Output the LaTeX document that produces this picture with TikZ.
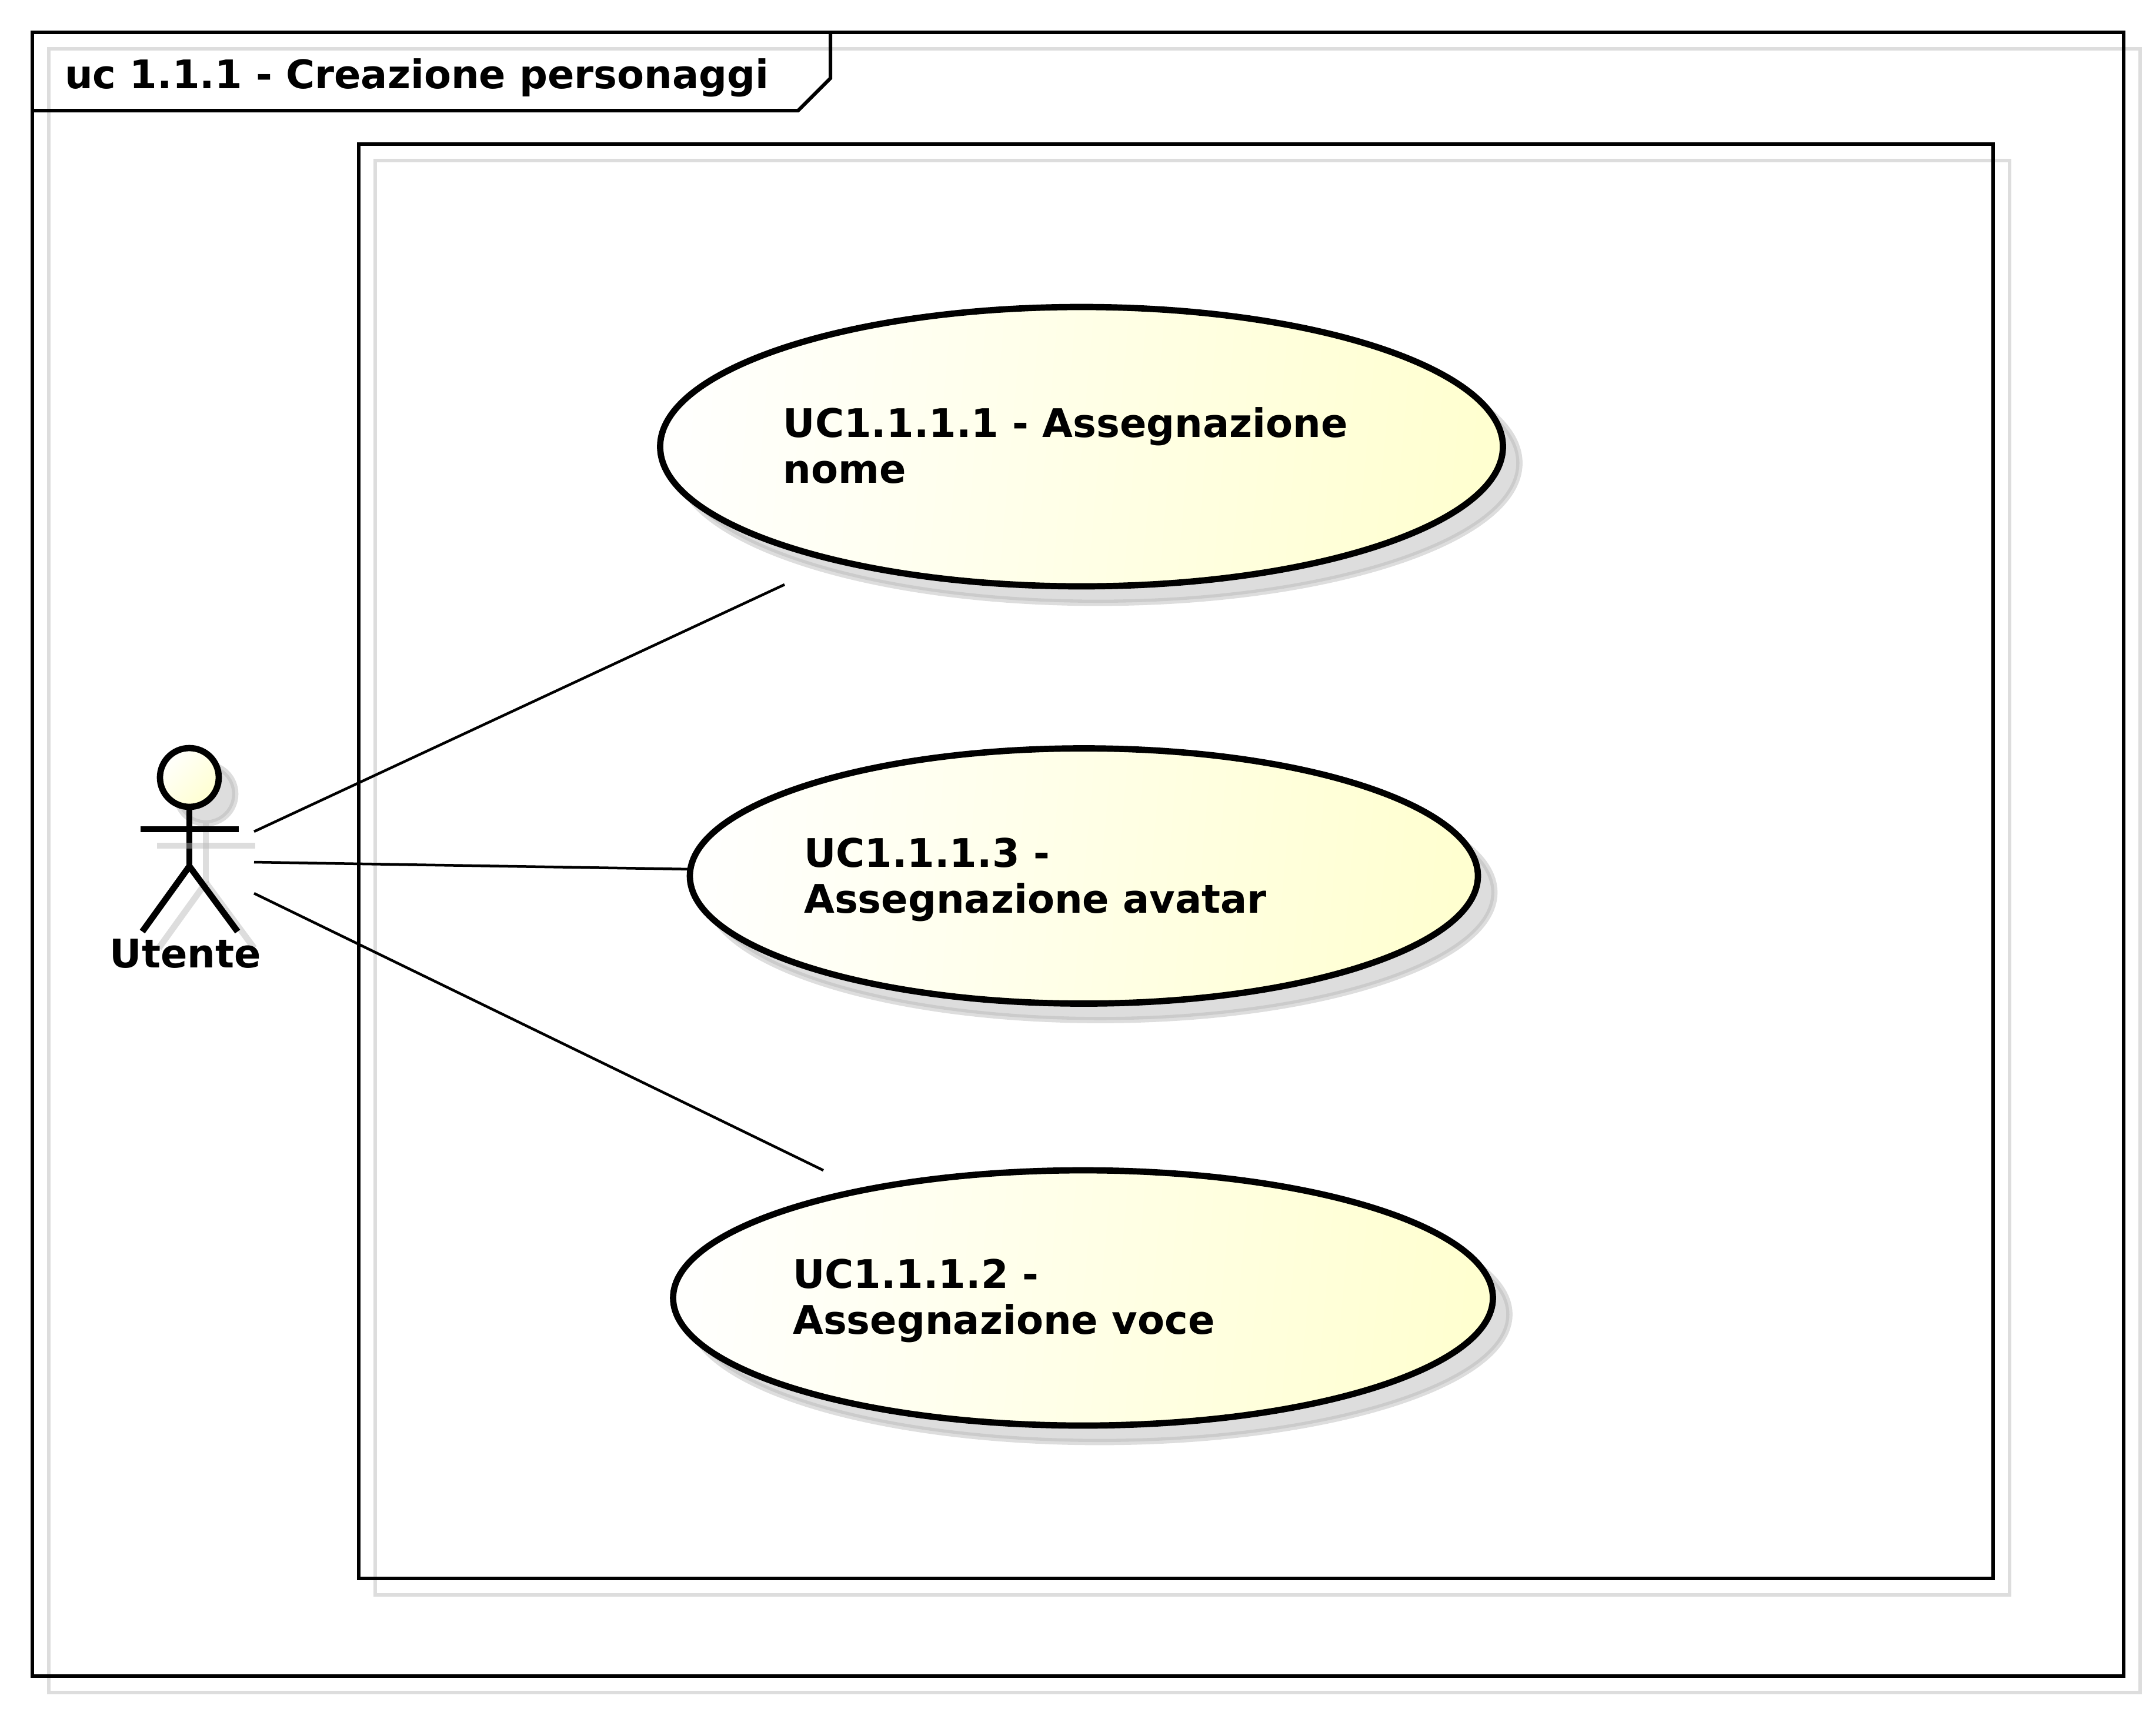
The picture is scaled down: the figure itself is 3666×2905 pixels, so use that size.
\documentclass[tikz,border=0pt]{standalone}
\usepackage{fontspec}
\setmainfont{DejaVu Sans}
\usetikzlibrary{shapes.geometric,positioning}
\definecolor{shadowgray}{HTML}{B5B5B5}
\definecolor{ucpale}{HTML}{FFFFFD}
\definecolor{ucmid}{HTML}{FFFFE6}
\definecolor{ucyellow}{HTML}{FFFFD0}
\tikzset{
    boxline/.style={black,line width=6pt},
    boxshadow/.style={shadowgray,opacity=0.46,line width=6pt},
    stick/.style={black,line width=10.7pt},
    stickshadow/.style={shadowgray,opacity=0.46,line width=10.7pt},
    assoc/.style={black,line width=4.5pt},
    label/.style={font=\fontsize{67}{78}\selectfont\bfseries,inner sep=0pt,align=left,anchor=base west},
    usecase/.style={ellipse,draw=black,line width=10.7pt,inner sep=0pt,outer sep=0pt,left color=ucpale,middle color=ucmid,right color=ucyellow,shading angle=85},
    ucshadow/.style={ellipse,draw=shadowgray,fill=shadowgray,opacity=0.46,line width=10.7pt,inner sep=0pt,outer sep=0pt},
}
\begin{document}
\begin{tikzpicture}[x=1pt,y=-1pt]
    \useasboundingbox (0,0) rectangle (3666,2905);
    % frame and system box
    \draw [boxshadow] (83,83) rectangle (3639,2878);
    \draw [boxline] (55,55) rectangle (3611,2850);
    \draw [boxline] (55,188) -- (1357,188) -- (1412,133) -- (1412,55);
    \node [label] (title) at (110,150) {uc 1.1.1 - Creazione personaggi};
    \draw [boxshadow] (638,273) rectangle (3417,2712);
    \draw [boxline] (610,245) rectangle (3389,2684);
    % connector ends
    \coordinate (actorA) at (432,1414);
    \coordinate (actorB) at (432,1466);
    \coordinate (actorC) at (432,1519);
    \coordinate (endA) at (1334,994);
    \coordinate (endB) at (1175,1478);
    \coordinate (endC) at (1400,1990);
    \draw [assoc] (actorA) -- (endA);
    \draw [assoc] (actorB) -- (endB);
    \draw [assoc] (actorC) -- (endC);
    % use cases
    \node [ucshadow,minimum width=1433pt,minimum height=475pt] (shadowA) at (1867,787.5) {};
    \node [usecase,minimum width=1433pt,minimum height=475pt] (ucA) at (1839,759.5) {};
    \node [label] (textA) at (1331.5,821) {UC1.1.1.1 - Assegnazione\\nome};
    \node [ucshadow,minimum width=1340pt,minimum height=434pt] (shadowB) at (1871,1517.5) {};
    \node [usecase,minimum width=1340pt,minimum height=434pt] (ucB) at (1843,1489.5) {};
    \node [label] (textB) at (1367,1552) {UC1.1.1.3 -\\Assegnazione avatar};
    \node [ucshadow,minimum width=1394pt,minimum height=434pt] (shadowC) at (1869.5,2235) {};
    \node [usecase,minimum width=1394pt,minimum height=434pt] (ucC) at (1841.5,2207) {};
    \node [label] (textC) at (1348,2268) {UC1.1.1.2 -\\Assegnazione voce};
    % actor
    \node [ucshadow,circle,minimum size=100pt] (headshadow) at (350,1350) {};
    \draw [stickshadow] (350,1400) -- (350,1501);
    \draw [stickshadow] (350,1501) -- (270,1612);
    \draw [stickshadow] (350,1501) -- (432,1612);
    \draw [stick] (322,1372) -- (322,1473);
    \draw [stickshadow] (267,1438) -- (434,1438);
    \node [circle,draw=black,line width=10.7pt,inner sep=0pt,outer sep=0pt,minimum size=100pt,top color=ucpale,bottom color=ucyellow,shading angle=45] (head) at (322,1322) {};
    \draw [stick] (239,1410) -- (406,1410);
    \draw [stick] (322,1473) -- (242,1584);
    \draw [stick] (322,1473) -- (404,1584);
    \node [label] (actorname) at (186.5,1645) {Utente};
\end{tikzpicture}
\end{document}
